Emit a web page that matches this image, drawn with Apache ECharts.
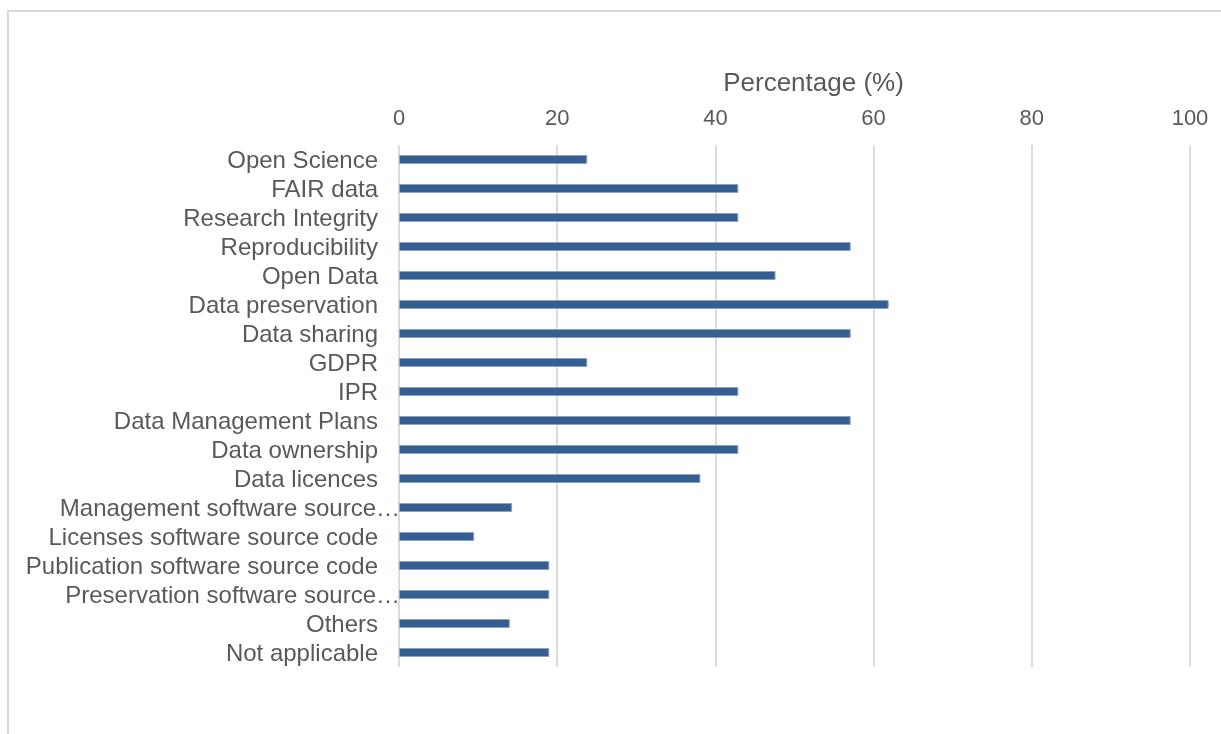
<!DOCTYPE html>
<html>
<head>
<meta charset="utf-8">
<script src="https://cdn.jsdelivr.net/npm/echarts@6/dist/echarts.min.js"></script>
<style>
html,body{margin:0;padding:0;background:#fff;}
#chart{width:1221px;height:734px;}
</style>
</head>
<body>
<div id="chart"></div>
<script>
const categories = [
  "Open Science",
  "FAIR data",
  "Research Integrity",
  "Reproducibility",
  "Open Data",
  "Data preservation",
  "Data sharing",
  "GDPR",
  "IPR",
  "Data Management Plans",
  "Data ownership",
  "Data licences",
  "Management software source…",
  "Licenses software source code",
  "Publication software source code",
  "Preservation software source…",
  "Others",
  "Not applicable"
];
const percentages = [23.8, 42.9, 42.9, 57.1, 47.6, 61.9, 57.1, 23.8, 42.9, 57.1, 42.9, 38.1, 14.3, 9.5, 19.0, 19.0, 14.0, 19.0];
const xTicks = [0, 20, 40, 60, 80, 100];
const axisTitle = "Percentage (%)";

const chart = echarts.init(document.getElementById('chart'), null, {renderer: 'canvas'});
const font = 'Liberation Sans, Arial, sans-serif';
chart.setOption({
  animation: false,
  graphic: [{
    type: 'rect',
    shape: {x: 8, y: 11, width: 1240, height: 760},
    style: {fill: 'none', stroke: '#d9d9d9', lineWidth: 2},
    silent: true
  }],
  grid: {left: 399, right: 31, top: 145, bottom: 67, containLabel: false},
  xAxis: {
    type: 'value',
    position: 'top',
    min: xTicks[0],
    max: xTicks[xTicks.length - 1],
    interval: 20,
    name: axisTitle,
    nameLocation: 'middle',
    nameGap: 48,
    nameTextStyle: {color: '#595959', fontSize: 26, fontFamily: font, padding: [0, 0, 0, 38]},
    axisLine: {show: false},
    axisTick: {show: false},
    axisLabel: {color: '#595959', fontSize: 22, fontFamily: font, margin: 15},
    splitLine: {show: true, lineStyle: {color: '#dcdcdc', width: 2}}
  },
  yAxis: {
    type: 'category',
    inverse: true,
    data: categories,
    axisLine: {show: false},
    axisTick: {show: false},
    axisLabel: {
      interval: 0,
      color: '#595959', fontSize: 24, fontFamily: font, margin: 21,
      padding: [4, 0, 0, 0],
      formatter: function (v) { return v.endsWith('…') ? '{t|' + v + '}' : v; },
      rich: {t: {color: '#595959', fontSize: 24, fontFamily: font, padding: [0, -22, 0, 0]}}
    }
  },
  series: [{
    type: 'bar',
    data: percentages,
    barWidth: 9,
    itemStyle: {color: '#365f91', borderColor: '#8aa2c2', borderWidth: 1}
  }]
});
</script>
</body>
</html>
